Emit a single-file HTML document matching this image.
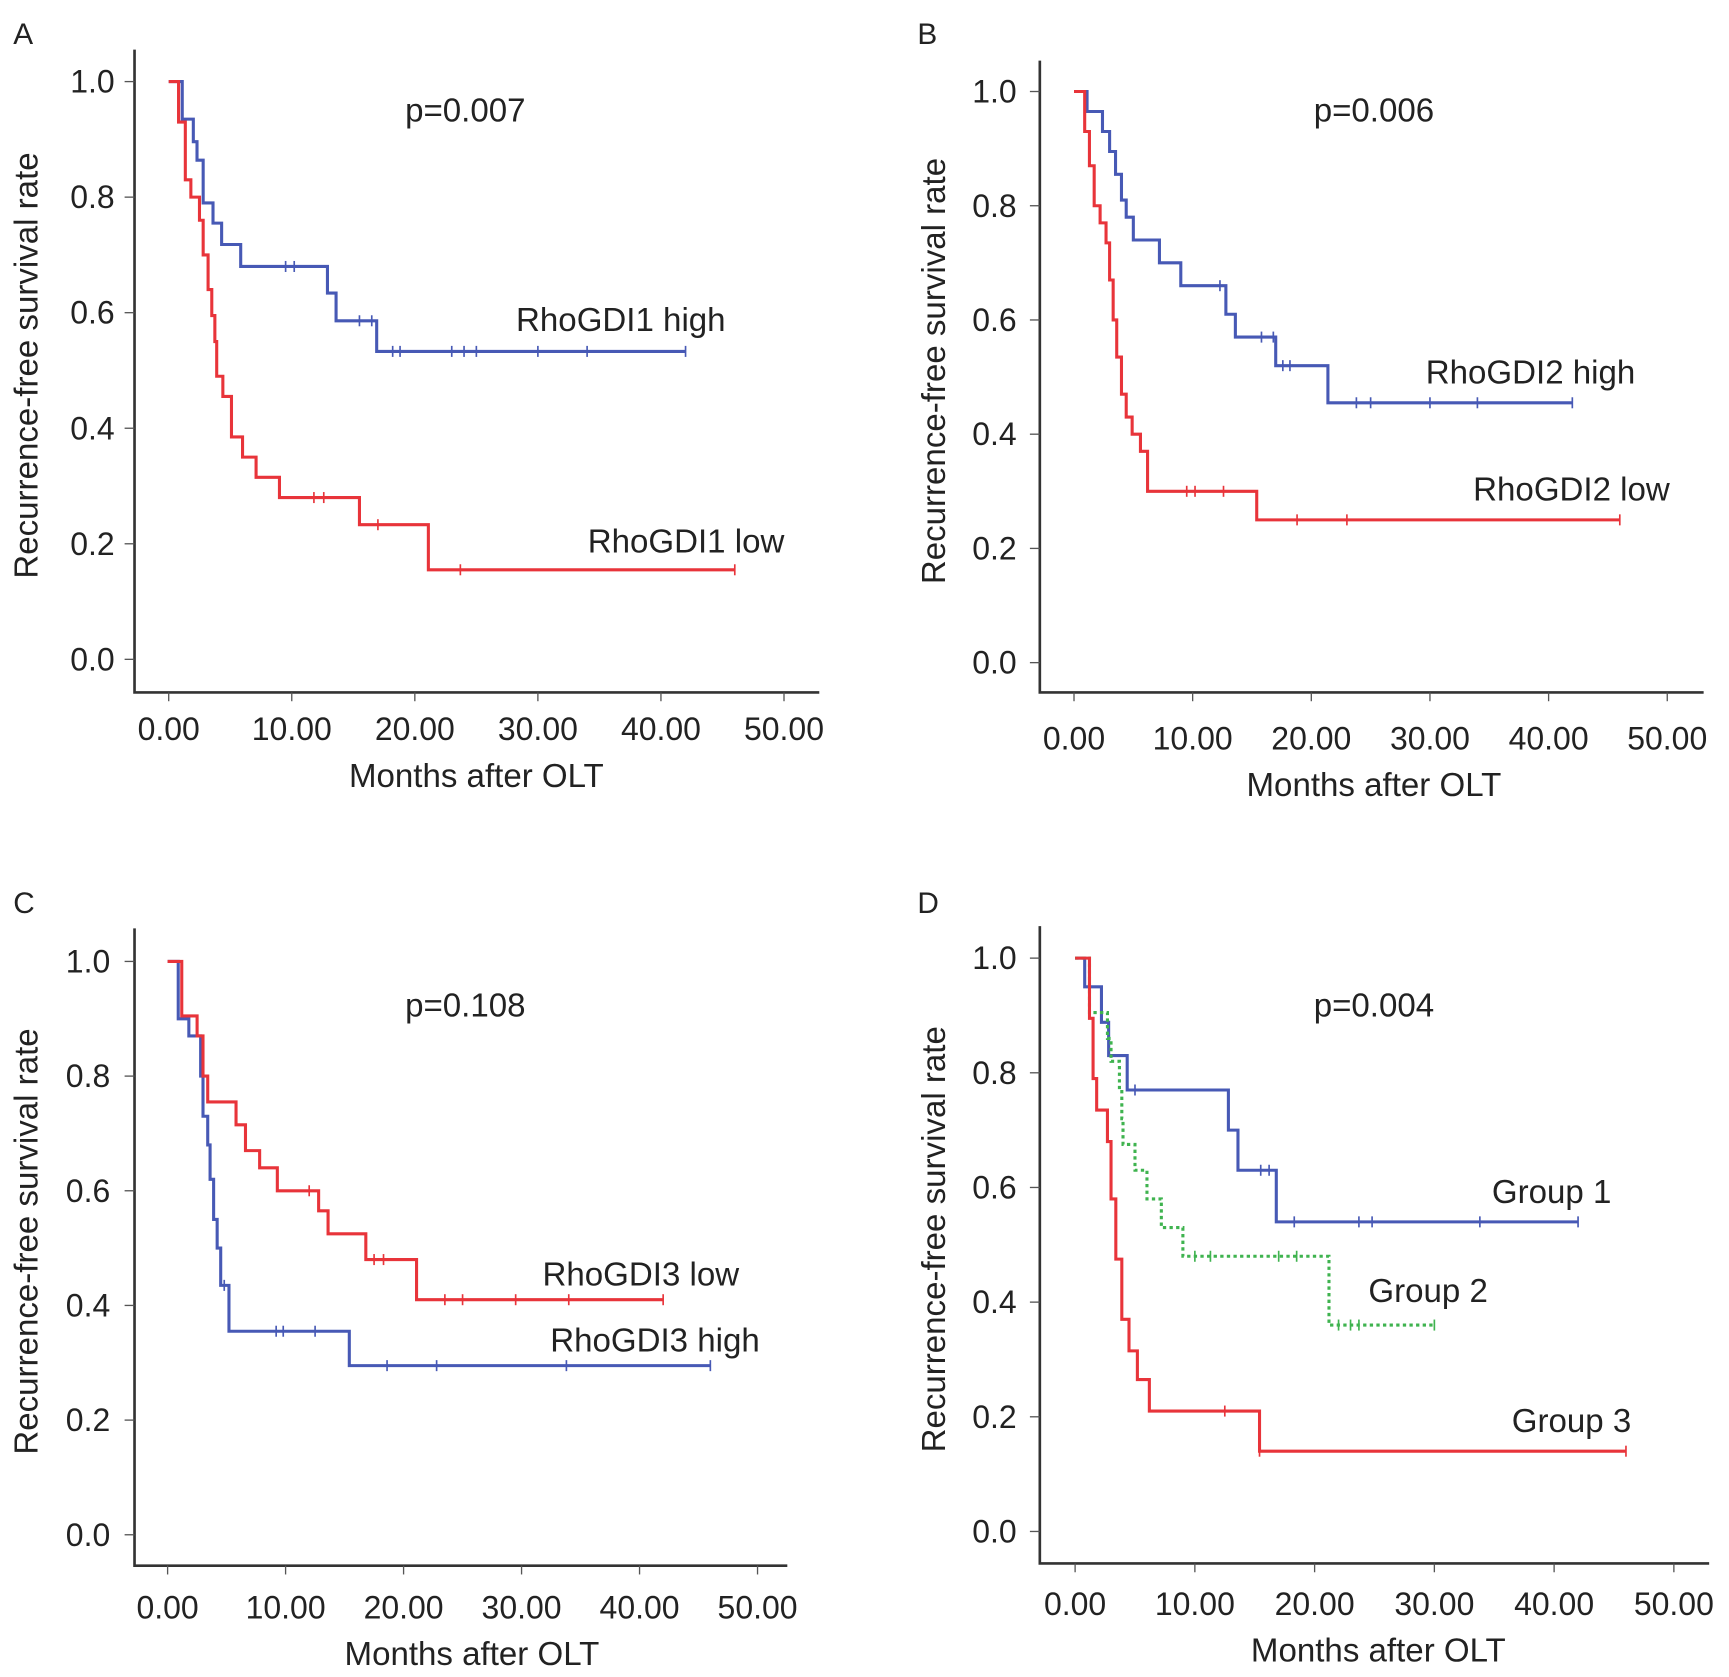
<!DOCTYPE html>
<html><head><meta charset="utf-8"><style>
html,body{margin:0;padding:0;background:#fff;}
svg{display:block;font-family:"Liberation Sans",Arial,sans-serif;}
</style></head><body>
<svg id="fig" width="1729" height="1677" viewBox="0 0 1568 1521" preserveAspectRatio="none" xmlns="http://www.w3.org/2000/svg"></svg>
<script>
// ---- Data (months, survival) ----
const xTicks = [0,10,20,30,40,50];
const xTickLabels = ["0.00","10.00","20.00","30.00","40.00","50.00"];
const yTicks = [0,0.2,0.4,0.6,0.8,1.0];
const yTickLabels = ["0.0","0.2","0.4","0.6","0.8","1.0"];

const aHighT = [1.1,2.0,2.3,2.8,3.6,4.3,5.85,12.9,13.6,16.9,42];
const aHighS = [0.935,0.896,0.864,0.79,0.755,0.718,0.68,0.634,0.586,0.533,0.533];
const aHighC = [9.5,10.2,15.5,16.5,18.2,18.8,23,24,25,30,34,42];
const aLowT = [0.8,1.35,1.8,2.5,2.8,3.2,3.5,3.75,3.9,4.4,5.1,6.0,7.1,9.0,15.5,21.1,46];
const aLowS = [0.93,0.83,0.80,0.76,0.70,0.64,0.595,0.55,0.49,0.455,0.385,0.35,0.315,0.28,0.233,0.155,0.155];
const aLowC = [11.8,12.6,17,23.7,46];

const bHighT = [1.1,2.4,3.0,3.5,4.0,4.4,5.0,7.2,9.0,12.8,13.6,17.0,21.4,42];
const bHighS = [0.965,0.93,0.895,0.855,0.81,0.78,0.74,0.70,0.66,0.61,0.57,0.52,0.455,0.455];
const bHighC = [12.3,15.8,16.8,17.6,18.2,23.8,25,30,34,42];
const bLowT = [0.9,1.3,1.7,2.2,2.7,3.0,3.3,3.6,4.0,4.4,4.9,5.6,6.2,15.4,46];
const bLowS = [0.93,0.87,0.80,0.77,0.735,0.67,0.60,0.535,0.47,0.43,0.40,0.37,0.30,0.25,0.25];
const bLowC = [9.5,10.2,12.6,18.8,23,46];

const cHighT = [0.9,1.8,2.8,3.0,3.4,3.6,3.9,4.2,4.5,5.2,15.4,46];
const cHighS = [0.90,0.87,0.80,0.73,0.68,0.62,0.55,0.50,0.435,0.355,0.295,0.295];
const cHighC = [4.8,9.2,9.8,12.5,18.6,22.8,33.8,46];
const cLowT = [1.2,2.5,3.0,3.4,5.8,6.6,7.8,9.3,12.8,13.6,16.8,21.1,42];
const cLowS = [0.905,0.87,0.80,0.755,0.715,0.67,0.64,0.60,0.565,0.525,0.48,0.41,0.41];
const cLowC = [12,17.5,18.3,23.5,25,29.5,34,42];

const d1T = [0.8,2.2,2.8,4.35,12.8,13.6,16.8,42];
const d1S = [0.95,0.888,0.83,0.77,0.70,0.63,0.54,0.54];
const d1C = [5,15.5,16.2,18.3,23.7,24.8,33.8,42];
const d2T = [1.2,2.7,3.0,3.7,3.9,4.0,5.0,6.0,7.2,9.0,21.2,30];
const d2S = [0.905,0.86,0.82,0.77,0.72,0.675,0.63,0.58,0.53,0.48,0.36,0.36];
const d2C = [10,11.3,17,18.5,22,23,23.7,30];
const d3T = [1.2,1.5,1.8,2.7,3.0,3.4,3.9,4.5,5.2,6.2,15.4,46];
const d3S = [0.895,0.79,0.735,0.68,0.58,0.475,0.37,0.315,0.265,0.21,0.14,0.14];
const d3C = [12.5,15.4,46];

const BLUE="#4759b5", RED="#e8343a", GREEN="#3fb34f";
const NS="http://www.w3.org/2000/svg";
const svg=document.getElementById('fig');
function el(tag,attrs,parent){const e=document.createElementNS(NS,tag);for(const k in attrs)e.setAttribute(k,attrs[k]);(parent||svg).appendChild(e);return e;}

const panels=[
 {letter:"A",lx:12,ly:40,ax:122,top:45,bot:628,right:743,x0:153,x50:711,y1:74,y0:598,tickY:671,titleY:714,titleX:432,yTitleX:34,tlabX:104,p:"p=0.007",px:422,py:110,
  series:[{t:aHighT,s:aHighS,c:aHighC,col:BLUE,name:"rhogdi1-high"},{t:aLowT,s:aLowS,c:aLowC,col:RED,name:"rhogdi1-low"}],
  labels:[["RhoGDI1 high",468,300],["RhoGDI1 low",533,501]]},
 {letter:"B",lx:832,ly:40,ax:943,top:55,bot:628,right:1545,x0:974,x50:1512,y1:83,y0:601,tickY:680,titleY:722,titleX:1246,yTitleX:857,tlabX:922,p:"p=0.006",px:1246,py:110,
  series:[{t:bHighT,s:bHighS,c:bHighC,col:BLUE,name:"rhogdi2-high"},{t:bLowT,s:bLowS,c:bLowC,col:RED,name:"rhogdi2-low"}],
  labels:[["RhoGDI2 high",1293,348],["RhoGDI2 low",1336,454]]},
 {letter:"C",lx:12,ly:828,ax:122,top:842,bot:1420,right:714,x0:152,x50:687,y1:872,y0:1392,tickY:1468,titleY:1510,titleX:428,yTitleX:34,tlabX:100,p:"p=0.108",px:422,py:922,
  series:[{t:cHighT,s:cHighS,c:cHighC,col:BLUE,name:"rhogdi3-high"},{t:cLowT,s:cLowS,c:cLowC,col:RED,name:"rhogdi3-low"}],
  labels:[["RhoGDI3 low",492,1166],["RhoGDI3 high",499,1226]]},
 {letter:"D",lx:832,ly:828,ax:943,top:840,bot:1418,right:1550,x0:975,x50:1518,y1:869,y0:1389,tickY:1465,titleY:1507,titleX:1250,yTitleX:857,tlabX:922,p:"p=0.004",px:1246,py:922,
  series:[{t:d1T,s:d1S,c:d1C,col:BLUE,name:"group-1"},{t:d2T,s:d2S,c:d2C,col:GREEN,dash:true,name:"group-2"},{t:d3T,s:d3S,c:d3C,col:RED,name:"group-3"}],
  labels:[["Group 1",1353,1091],["Group 2",1241,1181],["Group 3",1371,1299]]}
];

panels.forEach(P=>{
  const g=el('g',{});
  
  
  const X=v=>P.x0+(P.x50-P.x0)*v/50;
  const Y=v=>P.y0+(P.y1-P.y0)*v;
  const lt=el('text',{x:P.lx,y:P.ly,'font-size':27,fill:'#222'},g);lt.textContent=P.letter;
  
  
  const axes=el('path',{d:`M${P.ax},${P.top}V${P.bot}H${P.right}`,fill:'none',stroke:'#333','stroke-width':2.4},g);
  
  
  xTicks.forEach((v,i)=>{
    el('line',{x1:X(v),x2:X(v),y1:P.bot,y2:P.bot+8,stroke:'#555','stroke-width':1.2},g);
    const t=el('text',{x:X(v),y:P.tickY,'font-size':29,'text-anchor':'middle',fill:'#222'},g);t.textContent=xTickLabels[i];
    
    
  });
  yTicks.forEach((v,i)=>{
    el('line',{x1:P.ax-9,x2:P.ax,y1:Y(v),y2:Y(v),stroke:'#555','stroke-width':1.2},g);
    const t=el('text',{x:P.tlabX,y:Y(v)+10,'font-size':29,'text-anchor':'end',fill:'#222'},g);t.textContent=yTickLabels[i];
    
    
  });
  const xt=el('text',{x:P.titleX,y:P.titleY,'font-size':30,'text-anchor':'middle',fill:'#222'},g);xt.textContent="Months after OLT";
  
  
  const yc=(P.top+P.bot)/2-5;
  const yt=el('text',{x:P.yTitleX,y:yc,'font-size':30,'text-anchor':'middle',fill:'#222',transform:`rotate(-90 ${P.yTitleX} ${yc})`},g);yt.textContent="Recurrence-free survival rate";
  
  
  const pt=el('text',{x:P.px,y:P.py,'font-size':30,'text-anchor':'middle',fill:'#222'},g);pt.textContent=P.p;
  
  
  P.series.forEach(S=>{
    let d=`M${X(0)},${Y(1)}`;
    S.t.forEach((t,i)=>{d+=`H${X(t)}V${Y(S.s[i])}`;});
    const line=el('path',{d:d,fill:'none',stroke:S.col,'stroke-width':2.8,'stroke-dasharray':S.dash?'3,3':'none'},g);
    
    
    const survAt=t=>{let v=1;S.t.forEach((tt,i)=>{if(tt<=t)v=S.s[i];});return v;};
    S.c.forEach(c=>{
      const m=el('line',{x1:X(c),x2:X(c),y1:Y(survAt(c))-5,y2:Y(survAt(c))+5,stroke:S.col,'stroke-width':1.5},g);
      
      
    });
  });
  P.labels.forEach(L=>{
    const t=el('text',{x:L[1],y:L[2],'font-size':30,fill:'#222'},g);t.textContent=L[0];
    
    
  });
});
</script>
</body></html>
